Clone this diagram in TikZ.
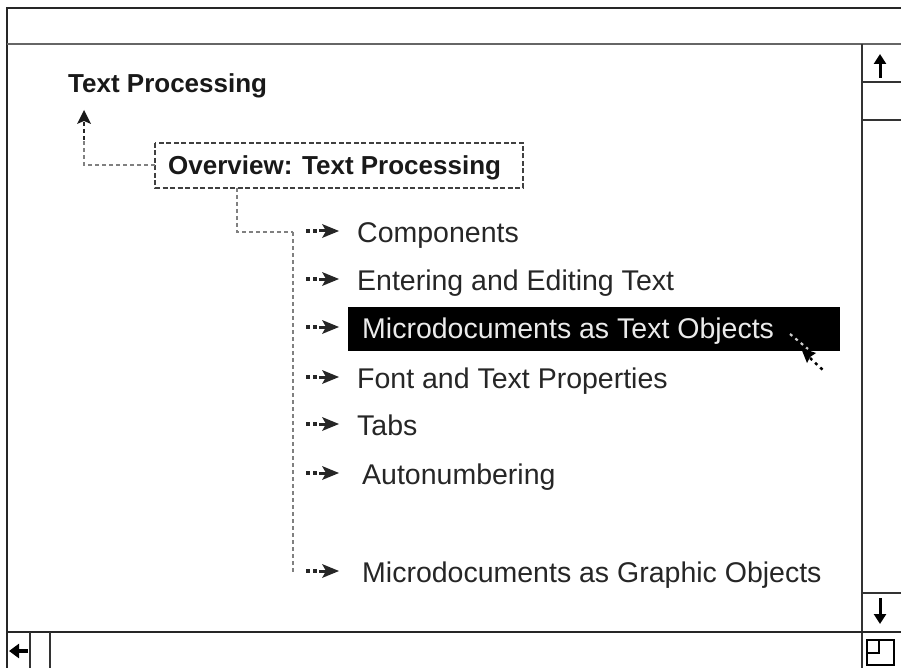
\documentclass[tikz,border=0pt]{standalone}
\usepackage{fontspec}
\setmainfont{Liberation Sans}
\usetikzlibrary{arrows.meta}
\begin{document}
\begin{tikzpicture}[x=1pt,y=-1pt,
  frameline/.style={line width=2pt,black!85},
  thinframe/.style={line width=1.5pt,black!80},
  dashline/.style={line width=1.6pt,black!50,dash pattern=on 4pt off 3pt},
  boxdash/.style={line width=1.8pt,black!75,dash pattern=on 5pt off 2.5pt},
  itemtext/.style={anchor=base west,inner sep=0pt,font=\fontsize{28.5}{32}\selectfont,text=black!85},
  boldtext/.style={anchor=base west,inner sep=0pt,font=\fontsize{26}{30}\selectfont\bfseries,text=black!90}
]
\useasboundingbox (0,0) rectangle (901,668);
\fill[white] (0,0) rectangle (901,668);
% window frame
\draw[frameline] (7,668) -- (7,8) -- (901,8);
\draw[line width=1.8pt,black!60] (7,44) -- (901,44);
\draw[thinframe] (862,44) -- (862,668);
\draw[thinframe] (862,82) -- (901,82);
\draw[thinframe] (862,120) -- (901,120);
\draw[thinframe] (862,593) -- (901,593);
\draw[frameline] (7,632) -- (901,632);
\draw[thinframe] (30,632) -- (30,668);
\draw[thinframe] (50,632) -- (50,668);
% scroll arrows
\coordinate (upt) at (880,54);
\coordinate (upb) at (880,78);
\draw[line width=3pt,-{Triangle[length=10pt,width=12pt]}] (upb) -- (upt);
\coordinate (dnt) at (880,598);
\coordinate (dnb) at (880,624);
\draw[line width=3pt,-{Triangle[length=10pt,width=12pt]}] (dnt) -- (dnb);
\coordinate (lfr) at (28,651);
\coordinate (lfl) at (9,651);
\draw[line width=3.5pt,-{Triangle[length=10pt,width=14pt]}] (lfr) -- (lfl);
\draw[line width=1.4pt] (867,640) rectangle (894,665);
\draw[line width=1.4pt] (867,653) -- (879,653) -- (879,640);
% nodes
\node[boldtext] (tp) at (68,93) {Text Processing};
\node[boldtext] (ov) at (168,175) {Overview: Text Processing};
\draw[boxdash] (155,143) rectangle (523,188);
\coordinate (ovbl) at (155,165);
\coordinate (ovb) at (237,188);
% highlight
\fill[black] (348,307) rectangle (840,351);
\node[itemtext] (c1) at (357,242) {Components};
\node[itemtext] (c2) at (357,290) {Entering and Editing Text};
\node[itemtext,text=white!92!black] (c3) at (362,338) {Microdocuments as Text Objects};
\node[itemtext] (c4) at (357,388) {Font and Text Properties};
\node[itemtext] (c5) at (357,435) {Tabs};
\node[itemtext] (c6) at (362,484) {Autonumbering};
\node[itemtext] (c7) at (362,582) {Microdocuments as Graphic Objects};
% connectors
\coordinate (tpa) at (84,110);
\coordinate (tpc) at (84,165);
\draw[dashline] (ovbl) -- (tpc) -- (84,140);
\draw[line width=2.5pt,black!85,dash pattern=on 4pt off 3pt] (84,140) -- (84,122);
\fill[black!90] (tpa) -- (91,124) -- (84,121) -- (77,124) -- cycle;
\coordinate (br) at (237,232);
\coordinate (sp) at (293,232);
\coordinate (spb) at (293,572);
\draw[dashline] (ovb) -- (br) -- (sp);
\draw[dashline] (sp) -- (spb);
\foreach \n/\y in {c1/231,c2/279,c3/327,c4/377,c5/424,c6/473,c7/571}{
  \fill[black!85] (306,\y-2) rectangle (310,\y+2);
  \fill[black!85] (313,\y-2) rectangle (317,\y+2);
  \fill[black!85] (339,\y) -- (322,\y-7) -- (326,\y) -- (322,\y+7) -- cycle;
  \fill[black!85] (319,\y-1.5) rectangle (327,\y+1.5);
}
% cursor
\draw[line width=2.2pt,white!80!black,dash pattern=on 3pt off 4pt] (790,334) -- (808,349);
\fill[black] (801,348) -- (816,353) -- (810,357) -- (807,363) -- cycle;
\draw[line width=2.5pt,black,dash pattern=on 3pt off 4pt] (810,358) -- (825,372);
\end{tikzpicture}
\end{document}
